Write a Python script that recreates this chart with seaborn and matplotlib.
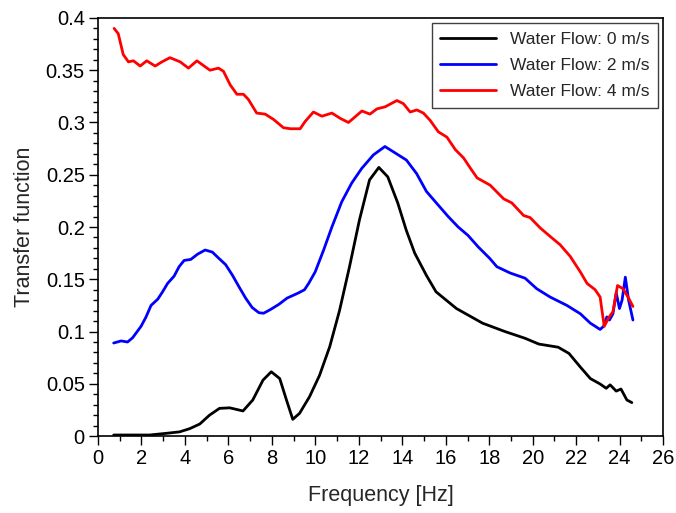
import matplotlib
matplotlib.use("Agg")
import matplotlib.pyplot as plt
from matplotlib.ticker import MultipleLocator
import numpy as np
import pandas as pd
import seaborn as sns

# Transfer function vs frequency for three water flow speeds
freq_0 = [0.72, 2.37, 3.14, 3.75, 4.21, 4.68, 5.13, 5.59, 6.06, 6.67, 7.12, 7.59, 7.97,
          8.36, 8.67, 8.96, 9.27, 9.73, 10.19, 10.66, 11.11, 11.57, 12.03, 12.49, 12.92,
          13.33, 13.79, 14.18, 14.57, 15.10, 15.55, 16.49, 17.69, 18.72, 19.65, 20.28,
          21.17, 21.67, 22.17, 22.65, 23.10, 23.38, 23.56, 23.84, 24.06, 24.33, 24.56]
tf_0 = [0.001, 0.001, 0.0026, 0.004, 0.007, 0.0115, 0.020, 0.0265, 0.027, 0.024, 0.0345,
        0.0535, 0.0615, 0.055, 0.0345, 0.016, 0.0217, 0.0376, 0.058, 0.0855, 0.120, 0.162,
        0.207, 0.245, 0.257, 0.248, 0.223, 0.197, 0.175, 0.154, 0.138, 0.122, 0.108, 0.100,
        0.0935, 0.088, 0.085, 0.079, 0.0665, 0.055, 0.0498, 0.0457, 0.049, 0.043, 0.045,
        0.0345, 0.032]

freq_2 = [0.72, 1.06, 1.36, 1.59, 1.98, 2.21, 2.44, 2.75, 2.97, 3.20, 3.50, 3.73, 3.96,
          4.27, 4.58, 4.93, 5.26, 5.56, 5.87, 6.18, 6.48, 6.79, 7.09, 7.40, 7.62, 7.93,
          8.32, 8.70, 9.23, 9.50, 9.69, 9.99, 10.38, 10.76, 11.21, 11.67, 12.13, 12.67,
          13.20, 13.66, 14.19, 14.66, 15.11, 15.65, 16.11, 16.57, 17.02, 17.49, 18.02,
          18.35, 18.96, 19.65, 20.18, 20.80, 21.57, 22.19, 22.65, 23.10, 23.26, 23.41,
          23.53, 23.69, 23.84, 23.99, 24.11, 24.26, 24.41, 24.61]
tf_2 = [0.089, 0.091, 0.090, 0.094, 0.105, 0.114, 0.125, 0.131, 0.138, 0.146, 0.153, 0.162,
        0.168, 0.169, 0.174, 0.178, 0.176, 0.170, 0.164, 0.154, 0.143, 0.132, 0.123, 0.118,
        0.1175, 0.121, 0.126, 0.132, 0.137, 0.140, 0.146, 0.157, 0.178, 0.200, 0.224, 0.242,
        0.256, 0.269, 0.277, 0.271, 0.264, 0.251, 0.234, 0.221, 0.210, 0.200, 0.192, 0.181,
        0.170, 0.162, 0.156, 0.151, 0.141, 0.133, 0.125, 0.117, 0.108, 0.102, 0.105, 0.114,
        0.111, 0.117, 0.137, 0.122, 0.130, 0.152, 0.130, 0.111]

freq_4 = [0.74, 0.93, 1.16, 1.40, 1.63, 1.94, 2.24, 2.63, 2.94, 3.31, 3.78, 4.16, 4.55,
          5.15, 5.54, 5.77, 6.08, 6.39, 6.69, 6.92, 7.30, 7.69, 8.07, 8.53, 8.85, 9.30,
          9.53, 9.91, 10.30, 10.76, 11.14, 11.52, 11.75, 12.14, 12.51, 12.83, 13.21, 13.75,
          14.05, 14.36, 14.67, 14.97, 15.28, 15.66, 16.05, 16.44, 16.82, 17.14, 17.44,
          18.04, 18.66, 19.04, 19.58, 19.88, 20.35, 20.80, 21.26, 21.72, 22.19, 22.50,
          22.87, 23.10, 23.18, 23.29, 23.49, 23.69, 23.90, 24.15, 24.41, 24.61]
tf_4 = [0.390, 0.385, 0.365, 0.358, 0.359, 0.354, 0.359, 0.354, 0.358, 0.362, 0.358, 0.352,
        0.359, 0.350, 0.352, 0.349, 0.336, 0.327, 0.327, 0.322, 0.309, 0.308, 0.303, 0.295,
        0.294, 0.294, 0.301, 0.310, 0.306, 0.309, 0.304, 0.300, 0.304, 0.311, 0.308, 0.313,
        0.315, 0.321, 0.318, 0.310, 0.312, 0.309, 0.302, 0.291, 0.286, 0.274, 0.266, 0.256,
        0.247, 0.240, 0.227, 0.223, 0.211, 0.209, 0.199, 0.191, 0.183, 0.172, 0.157, 0.146,
        0.140, 0.133, 0.121, 0.105, 0.113, 0.119, 0.144, 0.141, 0.132, 0.124]

labels = ["Water Flow: 0 m/s", "Water Flow: 2 m/s", "Water Flow: 4 m/s"]
colors = ["#000000", "#0000ff", "#ff0000"]

frames = []
for lab, f, t in zip(labels, [freq_0, freq_2, freq_4], [tf_0, tf_2, tf_4]):
    frames.append(pd.DataFrame({"Frequency": f, "Transfer": t, "Series": lab}))
df = pd.concat(frames, ignore_index=True)

sns.set_style("ticks")
plt.rcParams["font.family"] = ["Liberation Sans", "DejaVu Sans"]

fig = plt.figure(figsize=(6.76, 5.13), dpi=100)
ax = fig.add_axes([0.145, 0.150, 0.836, 0.815])

sns.lineplot(data=df, x="Frequency", y="Transfer", hue="Series", hue_order=labels,
             palette=colors, linewidth=2.0, sort=False, estimator=None, ax=ax)
for ln in ax.get_lines():
    ln.set_solid_joinstyle("round")
    ln.set_solid_capstyle("round")

ax.set_xlim(0, 26)
ax.set_ylim(0, 0.4)
ax.xaxis.set_major_locator(MultipleLocator(2))
ax.xaxis.set_minor_locator(MultipleLocator(1))
ax.yaxis.set_minor_locator(MultipleLocator(0.01))
ax.set_yticks(np.arange(0, 0.401, 0.05))
ax.set_yticklabels(["0", "0.05", "0.1", "0.15", "0.2", "0.25", "0.3", "0.35", "0.4"])

ax.tick_params(which="major", direction="out", length=6.5, width=1.0, labelsize=14.5,
               top=False, right=False, colors="black", pad=3)
ax.tick_params(which="minor", direction="out", length=3.5, width=1.0,
               top=False, right=False, colors="black")
for s in ax.spines.values():
    s.set_visible(True)
    s.set_color("black")
    s.set_linewidth(1.2)

ax.set_xlabel("Frequency [Hz]", fontsize=15.5, labelpad=12)
ax.set_ylabel("Transfer function", fontsize=15.5, labelpad=8)

leg = ax.legend(loc="upper right", fontsize=12.5, frameon=True, fancybox=False,
                edgecolor="#404040", framealpha=1, handlelength=3.2,
                borderaxespad=0.3, labelspacing=0.62, borderpad=0.5)
leg.get_frame().set_linewidth(1.0)
for line in leg.get_lines():
    line.set_linewidth(2.0)

fig.savefig("out.png", dpi=100)
